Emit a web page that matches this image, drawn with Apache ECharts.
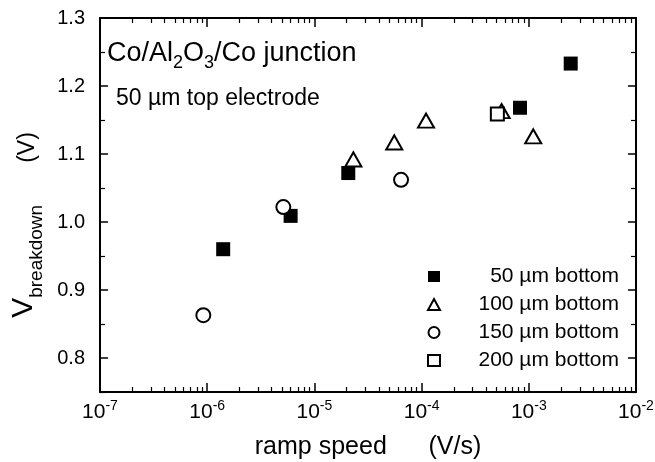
<!DOCTYPE html>
<html><head><meta charset="utf-8">
<script src="https://cdn.jsdelivr.net/npm/echarts@6/dist/echarts.min.js"></script>
<style>html,body{margin:0;padding:0;background:#fff}#c{width:655px;height:462px}</style>
</head><body><div id="c"></div>
<script>
// Data (ramp speed in V/s, breakdown voltage in V)
const s50x = [1.41e-6, 6.0e-6, 2.07e-5, 8.28e-4, 2.46e-3];
const s50y = [0.960, 1.009, 1.072, 1.168, 1.233];
const s100x = [2.31e-5, 5.56e-5, 1.10e-4, 5.58e-4, 1.10e-3];
const s100y = [1.092, 1.117, 1.149, 1.163, 1.126];
const s150x = [9.2e-7, 5.13e-6, 6.43e-5];
const s150y = [0.863, 1.022, 1.062];
const s200x = [5.09e-4];
const s200y = [1.159];
const seriesNames = ['50 µm bottom', '100 µm bottom', '150 µm bottom', '200 µm bottom'];
const yMajor = [0.8, 0.9, 1.0, 1.1, 1.2, 1.3];
const yMinor = [0.75, 0.85, 0.95, 1.05, 1.15, 1.25];
// minor tick positions on the log axis, expressed as decade exponents (tick decoration only)
const xMinorExp = [];
for (let e = -7; e < -2; e++) for (let m = 2; m <= 9; m++) xMinorExp.push(e + Math.log10(m));

const FONT = 'Liberation Sans';
const zip = (xs, ys) => xs.map((x, i) => [x, ys[i]]);
const chart = echarts.init(document.getElementById('c'), null, {renderer: 'canvas'});
const black = '#000';
const xBase = {type: 'log', logBase: 10, min: 1e-7, max: 1e-2, splitLine: {show: false}};
const xDeco = {type: 'value', min: -7, max: -2, splitLine: {show: false}, axisLine: {show: false},
  axisLabel: {show: false}};
const yBase = {type: 'value', min: 0.75, max: 1.3, splitLine: {show: false}};
chart.setOption({
  animation: false,
  backgroundColor: '#fff',
  grid: {left: 100, right: 19, top: 18, bottom: 70, containLabel: false, outerBoundsMode: 'none'},
  xAxis: [
    Object.assign({}, xBase, {position: 'bottom',
      axisLine: {show: true, lineStyle: {color: black, width: 2}},
      axisTick: {show: true, inside: true, length: 9, lineStyle: {color: black, width: 1.5}},
      axisLabel: {color: black, fontFamily: FONT, margin: 7,
        formatter: v => '{b|10}{e|' + Math.round(Math.log10(v)) + '}',
        rich: {b: {fontSize: 21, fontFamily: FONT, color: black, verticalAlign: 'bottom'},
               e: {fontSize: 14, fontFamily: FONT, color: black, verticalAlign: 'bottom', padding: [0, 0, 10, 0]}}},
      name: 'ramp speed      (V/s)', nameLocation: 'middle', nameGap: 43,
      nameTextStyle: {fontFamily: FONT, fontSize: 25, color: black}}),
    Object.assign({}, xDeco, {position: 'bottom',
      axisTick: {show: true, inside: true, length: 5, customValues: xMinorExp, lineStyle: {color: black, width: 1.2}}}),
    Object.assign({}, xBase, {position: 'top',
      axisLine: {show: true, lineStyle: {color: black, width: 2}}, axisLabel: {show: false},
      axisTick: {show: true, inside: true, length: 9, lineStyle: {color: black, width: 1.5}}}),
    Object.assign({}, xDeco, {position: 'top',
      axisTick: {show: true, inside: true, length: 5, customValues: xMinorExp, lineStyle: {color: black, width: 1.2}}})
  ],
  yAxis: [
    Object.assign({}, yBase, {position: 'left',
      axisLine: {show: true, lineStyle: {color: black, width: 2}},
      axisTick: {show: true, inside: true, length: 8, customValues: yMajor, lineStyle: {color: black, width: 1.5}},
      axisLabel: {show: true, customValues: yMajor, color: black, fontFamily: FONT, fontSize: 20, margin: 15,
        formatter: v => v.toFixed(1)},
      name: '{v|V}{s|breakdown}{g|}{u|(V)}', nameLocation: 'middle', nameGap: 54, nameRotate: 90,
      nameTextStyle: {fontFamily: FONT, color: black, padding: [0, 40, 0, 0],
        rich: {v: {fontSize: 30, fontFamily: FONT, color: black, verticalAlign: 'bottom', padding: [0, 0, 7, 0]},
               s: {fontSize: 19, fontFamily: FONT, color: black, verticalAlign: 'bottom'},
               g: {width: 42},
               u: {fontSize: 23, fontFamily: FONT, color: black, verticalAlign: 'bottom', padding: [0, 0, 7, 0]}}}}),
    Object.assign({}, yBase, {position: 'left',
      axisLine: {show: false}, axisLabel: {show: false},
      axisTick: {show: true, inside: true, length: 5, customValues: yMinor, lineStyle: {color: black, width: 1.2}}}),
    Object.assign({}, yBase, {position: 'right',
      axisLine: {show: true, lineStyle: {color: black, width: 2}}, axisLabel: {show: false},
      axisTick: {show: true, inside: true, length: 8, customValues: yMajor, lineStyle: {color: black, width: 1.5}}}),
    Object.assign({}, yBase, {position: 'right',
      axisLine: {show: false}, axisLabel: {show: false},
      axisTick: {show: true, inside: true, length: 5, customValues: yMinor, lineStyle: {color: black, width: 1.2}}})
  ],
  legend: {
    orient: 'vertical', left: 422, top: 261, itemWidth: 12, itemHeight: 11, itemGap: 7,
    data: seriesNames,
    formatter: n => '{a|' + n + '}',
    textStyle: {fontFamily: FONT, fontSize: 21, color: black,
      rich: {a: {width: 174, align: 'right', fontFamily: FONT, fontSize: 21, color: black}}}
  },
  graphic: [
    {type: 'text', left: 107, top: 40, style: {
      text: '{t|Co/Al}{s|2}{t|O}{s|3}{t|/Co junction}', fontFamily: FONT,
      rich: {t: {fontSize: 27, fontFamily: FONT, fill: black, verticalAlign: 'bottom', padding: [0, 0, 5, 0]},
             s: {fontSize: 18, fontFamily: FONT, fill: black, verticalAlign: 'bottom'}}}},
    {type: 'text', left: 116, top: 87, style: {text: '50 µm top electrode', fontFamily: FONT, fontSize: 23, fill: black}}
  ],
  series: [
    {name: seriesNames[0], type: 'scatter', data: zip(s50x, s50y), symbol: 'rect', symbolSize: 14,
      itemStyle: {color: black, opacity: 1}},
    {name: seriesNames[1], type: 'scatter', data: zip(s100x, s100y), symbol: 'triangle', symbolSize: [16, 14],
      itemStyle: {color: '#fff', borderColor: black, borderWidth: 2, opacity: 1}},
    {name: seriesNames[2], type: 'scatter', data: zip(s150x, s150y), symbol: 'circle', symbolSize: 14,
      itemStyle: {color: '#fff', borderColor: black, borderWidth: 2, opacity: 1}},
    {name: seriesNames[3], type: 'scatter', data: zip(s200x, s200y), symbol: 'rect', symbolSize: 13,
      itemStyle: {color: '#fff', borderColor: black, borderWidth: 2, opacity: 1}}
  ]
});
</script></body></html>
